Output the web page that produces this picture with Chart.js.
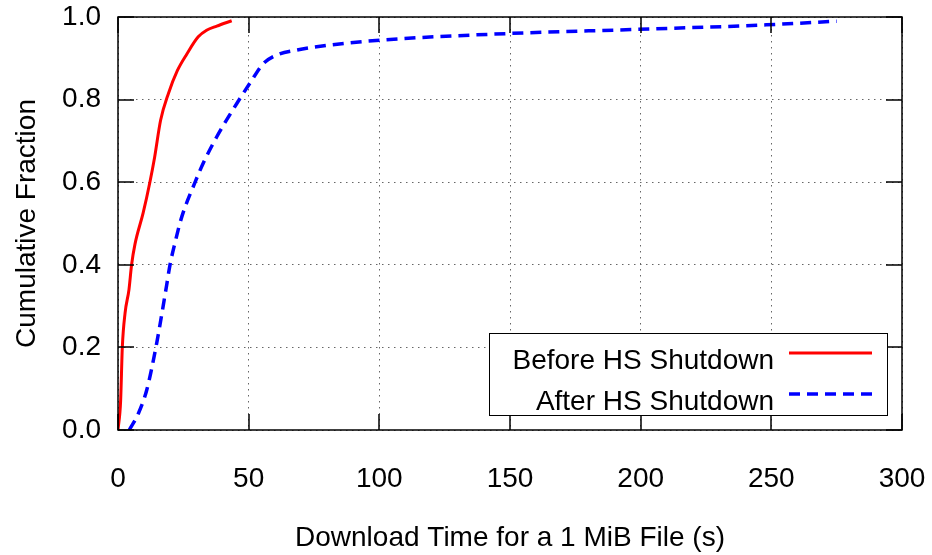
<!DOCTYPE html>
<html>
<head>
<meta charset="utf-8">
<script src="https://cdn.jsdelivr.net/npm/chart.js@4/dist/chart.umd.min.js"></script>
<style>
  html, body { margin: 0; padding: 0; background: #fff; }
  #cdf { display: block; }
</style>
</head>
<body>
<canvas id="cdf" width="932" height="555"></canvas>
<script>
// download time (s) vs cumulative fraction
const beforeTimes = [0, 1.0, 1.65, 2.7, 4.2, 5.2, 6.5, 9.6, 12.2, 14.0, 16.3, 19.3, 22.7, 26.3, 30.7, 33.9, 37.8, 43.5];
const beforeFrac  = [0, 0.07, 0.20, 0.283, 0.34, 0.40, 0.45, 0.525, 0.60, 0.66, 0.75, 0.815, 0.87, 0.91, 0.952, 0.968, 0.978, 0.991];

const afterTimes = [4.3, 7.8, 11.0, 14.5, 18.6, 19.9, 21.8, 24.4, 29.5, 32.6, 37.8, 45.4, 50.5, 55.6, 60.7, 68.4, 81.1, 100.2, 149.5, 198.7, 248.2, 275];
const afterFrac  = [0, 0.04, 0.097, 0.20, 0.35, 0.40, 0.453, 0.516, 0.60, 0.646, 0.71, 0.79, 0.84, 0.887, 0.908, 0.92, 0.932, 0.944, 0.960, 0.970, 0.981, 0.990];

const seriesLabels = ['Before HS Shutdown', 'After HS Shutdown'];
const xTicks = [0, 50, 100, 150, 200, 250, 300];
const yTicks = [0, 0.2, 0.4, 0.6, 0.8, 1.0];

const FONT = "'Liberation Sans', Arial, sans-serif";
Chart.defaults.color = '#000';
Chart.defaults.font.family = FONT;

function toPoints(xs, ys) {
    return xs.map((x, i) => ({ x: x, y: ys[i] }));
}

// keep the plot box where the layout padding puts it
function noLabelPadding(s) {
    s.paddingTop = 0;
    s.paddingBottom = 0;
    s.paddingLeft = 0;
    s.paddingRight = 0;
}

// gnuplot style: frame, inward ticks on all sides, boxed key inside
const gnuplotFrame = {
    id: 'gnuplotFrame',
    afterDraw(chart) {
        const { ctx, chartArea: a, scales } = chart;
        const tick = 16;
        ctx.save();
        ctx.setLineDash([]);
        ctx.strokeStyle = '#000';
        ctx.lineWidth = 1.5;
        ctx.beginPath();
        xTicks.forEach(v => {
            const px = Math.round(scales.x.getPixelForValue(v));
            ctx.moveTo(px, a.bottom); ctx.lineTo(px, a.bottom - tick);
            ctx.moveTo(px, a.top); ctx.lineTo(px, a.top + tick);
        });
        yTicks.forEach(v => {
            const py = Math.round(scales.y.getPixelForValue(v));
            ctx.moveTo(a.left, py); ctx.lineTo(a.left + tick, py);
            ctx.moveTo(a.right, py); ctx.lineTo(a.right - tick, py);
        });
        ctx.stroke();
        ctx.strokeRect(a.left, a.top, a.right - a.left, a.bottom - a.top);

        // key
        const w = 398, h = 82;
        const kx = Math.round(a.right - 15 - w), ky = Math.round(a.bottom - 15 - h);
        ctx.fillStyle = '#fff';
        ctx.fillRect(kx, ky, w, h);
        ctx.lineWidth = 1;
        ctx.strokeRect(kx + 0.5, ky + 0.5, w, h);
        ctx.font = '28px ' + FONT;
        ctx.textAlign = 'right';
        ctx.textBaseline = 'alphabetic';
        chart.data.datasets.forEach((ds, i) => {
            const lineY = ky + 20 + i * 41;
            ctx.fillStyle = '#000';
            ctx.fillText(ds.label, kx + 285, lineY + 16);
            ctx.strokeStyle = ds.borderColor;
            ctx.lineWidth = ds.borderWidth;
            ctx.setLineDash(ds.borderDash || []);
            ctx.beginPath();
            ctx.moveTo(kx + 300, lineY);
            ctx.lineTo(kx + 383, lineY);
            ctx.stroke();
            ctx.setLineDash([]);
        });
        ctx.restore();
    }
};

new Chart(document.getElementById('cdf'), {
    type: 'line',
    data: {
        datasets: [
            {
                label: seriesLabels[0],
                data: toPoints(beforeTimes, beforeFrac),
                borderColor: '#ff0000',
                borderWidth: 3,
                pointRadius: 0,
                cubicInterpolationMode: 'monotone',
                fill: false
            },
            {
                label: seriesLabels[1],
                data: toPoints(afterTimes, afterFrac),
                borderColor: '#0000ff',
                borderWidth: 3.5,
                borderDash: [11, 7],
                pointRadius: 0,
                cubicInterpolationMode: 'monotone',
                fill: false
            }
        ]
    },
    options: {
        responsive: false,
        animation: false,
        layout: { padding: { top: 17, right: 30, left: 0, bottom: 0 } },
        plugins: {
            legend: { display: false },
            tooltip: { enabled: false }
        },
        scales: {
            x: {
                type: 'linear',
                min: 0,
                max: 300,
                afterBuildTicks: s => { s.ticks = xTicks.map(v => ({ value: v })); },
                afterFit: s => { s.height = 125; noLabelPadding(s); },
                ticks: {
                    font: { size: 28 },
                    padding: 32,
                    maxRotation: 0
                },
                grid: { color: '#666', drawTicks: false, lineWidth: 1 },
                border: { display: false, dash: [1.5, 4.5] },
                title: {
                    display: true,
                    text: 'Download Time for a 1 MiB File (s)',
                    font: { size: 28, lineHeight: 1.2 },
                    padding: { top: 0, bottom: 0 }
                }
            },
            y: {
                type: 'linear',
                min: 0,
                max: 1,
                afterBuildTicks: s => { s.ticks = yTicks.map(v => ({ value: v })); },
                afterFit: s => { s.width = 118; noLabelPadding(s); },
                ticks: {
                    font: { size: 28 },
                    padding: 17,
                    callback: v => v.toFixed(1)
                },
                grid: { color: '#666', drawTicks: false, lineWidth: 1 },
                border: { display: false, dash: [1.5, 4.5] },
                title: {
                    display: true,
                    text: 'Cumulative Fraction',
                    font: { size: 28, lineHeight: 1.2 },
                    padding: { top: 10, bottom: 0 }
                }
            }
        }
    },
    plugins: [gnuplotFrame]
});
</script>
</body>
</html>
